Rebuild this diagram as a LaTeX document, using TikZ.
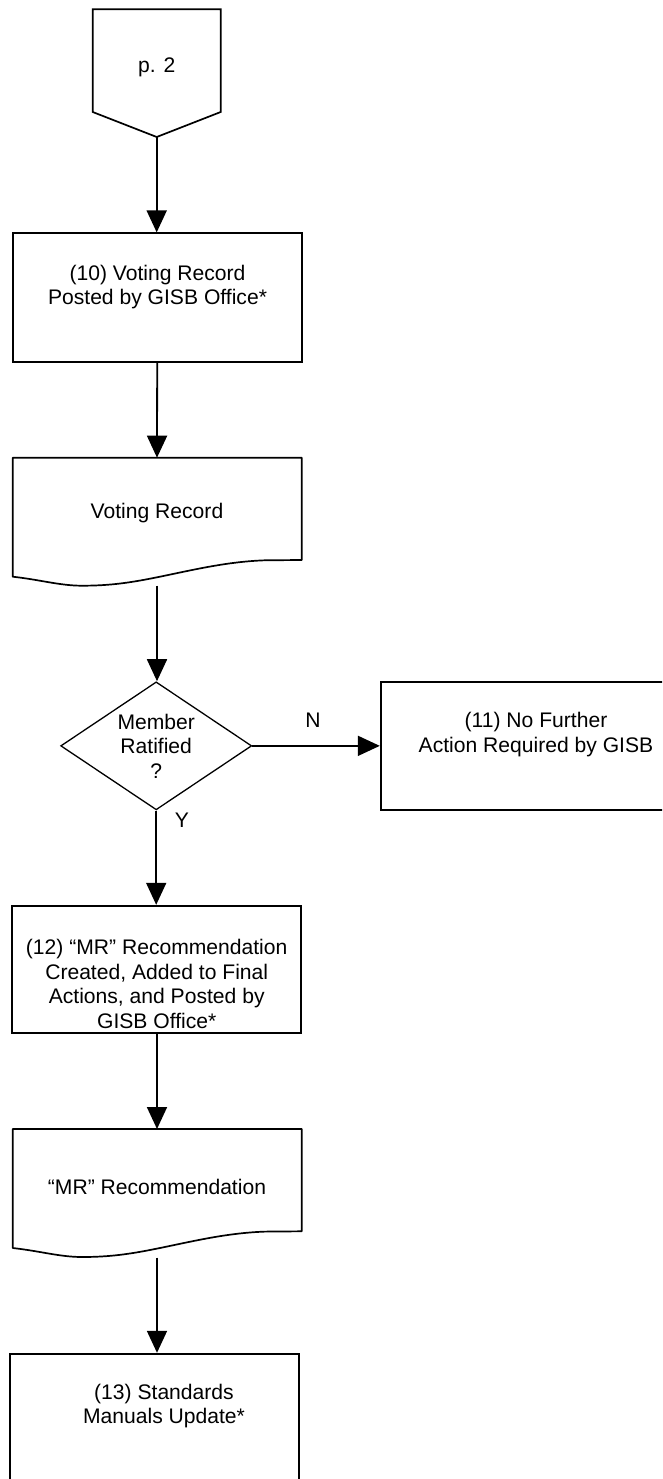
\documentclass[tikz,border=0pt]{standalone}
\usepackage{fontspec}
\setmainfont{Liberation Sans}
\usetikzlibrary{arrows.meta,shapes.geometric}
\begin{document}
\begin{tikzpicture}[x=1pt,y=-1pt,
  line width=1.8pt,
  txt/.style={font=\fontsize{21.1}{24.5}\selectfont, align=center, inner sep=0pt},
  box/.style={draw, rectangle, inner sep=0pt, line width=1.8pt},
  arr/.style={-{Triangle[length=22pt,width=20pt]}, line width=1.8pt},
  docline/.style={draw, line width=1.7pt, line join=round},
]
\useasboundingbox (0,0) rectangle (662,1479);
\clip (0,0) rectangle (662,1479);

% off-page connector
\draw[line width=1.7pt, line join=miter] (92.7,9.3) -- (220.7,9.3) -- (220.7,112) -- (156.7,137) -- (92.7,112) -- cycle;
\coordinate (p2tip) at (156.7,137);
\node[txt] (p2) at (156.7,67) {p. 2};

% box 10
\node[box, minimum width=289pt, minimum height=129pt] (b10) at (157.2,297.8) {};
\node[txt] (t10) at (157.5,287) {(10) Voting Record\\Posted by GISB Office*};

% document: Voting Record
\begin{scope}[shift={(0,457.7)}]
\path[docline] (12.7,0) -- (301.7,0) -- (301.7,102.3) -- (265,102.6)
  .. controls (225,104) and (190,113) .. (155,120)
  .. controls (130,125) and (110,128) .. (82,128)
  .. controls (60,128) and (40,122) .. (12.7,119) -- cycle;
\coordinate (vrtop) at (157,0);
\coordinate (vrbot) at (157,128);
\node[txt] (vr) at (157,55.5) {Voting Record};
\end{scope}

% decision
\node[txt, draw, diamond, minimum width=191pt, minimum height=128pt, aspect=1.49, line width=1.3pt] (dec) at (156.2,745.85) {Member\\Ratified\\?};

% box 11
\node[box, minimum width=310.3pt, minimum height=128.3pt] (b11) at (535.85,745.85) {};
\node[txt] (t11) at (536,734.5) {(11) No Further\\Action Required by GISB};
\node[txt] (lN) at (313,720) {N};
\node[txt] (lY) at (182,820) {Y};

% box 12
\node[box, minimum width=288.7pt, minimum height=127.6pt] (b12) at (156.35,969.5) {};
\node[txt] (t12) at (156.7,984) {(12) “MR” Recommendation\\Created, Added to Final\\Actions, and Posted by\\GISB Office*};

% document: MR Recommendation
\begin{scope}[shift={(0,1129)}]
\path[docline] (12.7,0) -- (301.7,0) -- (301.7,102.3) -- (265,102.6)
  .. controls (225,104) and (190,113) .. (155,120)
  .. controls (130,125) and (110,128) .. (82,128)
  .. controls (60,128) and (40,122) .. (12.7,119) -- cycle;
\coordinate (mrtop) at (157,0);
\coordinate (mrbot) at (157,128.7);
\node[txt] (mr) at (157,57.5) {“MR” Recommendation};
\end{scope}

% box 13
\node[box, minimum width=289pt, minimum height=128.3pt] (b13) at (154.5,1417.85) {};
\node[txt] (t13) at (164,1406) {(13) Standards\\Manuals Update*};

% connectors
\draw[arr] (p2tip) -- (p2tip |- b10.north);
\draw[arr] (b10.south) -- (vrtop);
\draw[arr] (vrbot) -- (vrbot |- dec.north);
\draw[arr] (dec.east) -- (b11.west);
\draw[arr] (dec.south) -- (dec.south |- b12.north);
\draw[arr] (mrtop |- b12.south) -- (mrtop);
\draw[arr] (mrbot) -- (mrbot |- b13.north);
\end{tikzpicture}
\end{document}
